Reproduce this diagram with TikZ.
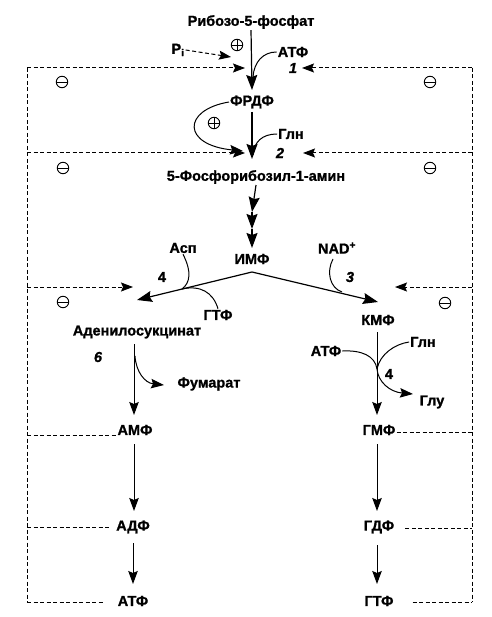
\documentclass[tikz,border=0pt]{standalone}
\usepackage{fontspec}
\setmainfont{Liberation Sans}[FakeBold=1.1]
\usetikzlibrary{arrows.meta}
\tikzset{
 lbl/.style={font=\fontsize{14.5}{17}\selectfont\bfseries, inner sep=1pt},
 num/.style={font=\fontsize{14.5}{17}\selectfont\bfseries\itshape, inner sep=1pt},
 numup/.style={font=\fontsize{14.5}{17}\selectfont\bfseries, inner sep=1pt},
 main/.style={line width=1.2pt, -{Stealth[length=15pt,width=11pt,inset=2pt]}},
 thinarr/.style={line width=1pt, -{Stealth[length=13pt,width=9.5pt,inset=2pt]}},
 side/.style={line width=1pt},
 fb/.style={line width=1pt, dash pattern=on 4pt off 2.5pt},
 fbarr/.style={fb, -{Stealth[length=12pt,width=9pt,inset=2pt]}},
 sgn/.style={circle, draw, line width=0.9pt, minimum size=11.5pt, inner sep=0},
 minus/.style={sgn, path picture={\draw[line width=0.9pt] (path picture bounding box.west) -- (path picture bounding box.east);}},
 plus/.style={sgn, path picture={\draw[line width=0.9pt] (path picture bounding box.west) -- (path picture bounding box.east) (path picture bounding box.north) -- (path picture bounding box.south);}},
}
\begin{document}
\begin{tikzpicture}[x=1pt,y=-1pt]
\useasboundingbox (0,0) rectangle (491,617);
% main metabolites
\node[lbl] (r5p) at (251,22) {Рибозо-5-фосфат};
\node[lbl] (frdf) at (252,102) {ФРДФ};
\node[lbl] (fra) at (256,177) {5-Фосфорибозил-1-амин};
\node[lbl] (imp) at (252,259) {ИМФ};
\node[lbl] (ads) at (137,332) {Аденилосукцинат};
\node[lbl] (kmp) at (378,320) {КМФ};
\node[lbl] (amp) at (135,430) {АМФ};
\node[lbl] (gmp) at (379,430) {ГМФ};
\node[lbl] (adp) at (133,527) {АДФ};
\node[lbl] (gdp) at (379,527) {ГДФ};
\node[lbl] (atp) at (133,601) {АТФ};
\node[lbl] (gtp) at (379,601) {ГТФ};
% side substrates
\node[lbl] (pi) at (178,50) {P\textsubscript{i}};
\node[lbl] (atp1) at (293,52) {АТФ};
\node[lbl] (gln1) at (291,134) {Глн};
\node[lbl] (asp) at (183,248) {Асп};
\node[lbl] (nad) at (337,248) {NAD\textsuperscript{+}};
\node[lbl] (gtp1) at (218,315) {ГТФ};
\node[lbl] (fum) at (209,384) {Фумарат};
\node[lbl] (atp3) at (326,351) {АТФ};
\node[lbl] (gln3) at (423,342) {Глн};
\node[lbl] (glu3) at (432,402) {Глу};
% numbers
\node[num] (n1) at (293,68) {1};
\node[num] (n2) at (280,153) {2};
\node[numup] (n4a) at (162,277) {4};
\node[num] (n3) at (350,277) {3};
\node[num] (n6) at (98,357) {6};
\node[numup] (n4b) at (389,374) {4};
% signs
\node[plus] (p1) at (237,45) {};
\node[plus] (p2) at (214,123) {};
\node[minus] (m1) at (62,82) {};
\node[minus] (m2) at (430,82) {};
\node[minus] (m3) at (63,168) {};
\node[minus] (m4) at (430,168) {};
\node[minus] (m5) at (63,302) {};
\node[minus] (m6) at (445,303) {};
% coordinates
\coordinate (t1) at (252,90);
\coordinate (s2) at (252,112);
\coordinate (t2) at (252,159);
\coordinate (j1) at (253,77);
\coordinate (j2) at (253,155);
\coordinate (a1) at (252,212);
\coordinate (a2) at (252,229);
\coordinate (a3) at (252,248);
\coordinate (apex) at (252,272);
\coordinate (lt) at (137,300);
\coordinate (rt) at (378,302);
\coordinate (jl) at (182,289);
\coordinate (jr) at (342,292);
\coordinate (L1) at (27,68);
\coordinate (R1) at (472,68);
\coordinate (L2) at (27,153);
\coordinate (R2) at (472,153);
\coordinate (L3) at (27,287);
\coordinate (R3) at (472,287);
\coordinate (L4) at (27,435);
\coordinate (R4) at (472,432);
\coordinate (L5) at (27,527);
\coordinate (R5) at (472,528);
\coordinate (L6) at (27,602);
\coordinate (R6) at (472,602);
\coordinate (f1l) at (245,68);
\coordinate (f1r) at (302,68);
\coordinate (f2l) at (245,153);
\coordinate (f2r) at (303,153);
\coordinate (f3l) at (133,287);
\coordinate (f3r) at (395,287);
\coordinate (pit) at (231,57);
\coordinate (lx) at (134,344);
\coordinate (lt2) at (134,415);
\coordinate (jf) at (135,356);
\coordinate (fumt) at (164,385);
\coordinate (rx) at (377,332);
\coordinate (rt2) at (377,415);
\coordinate (jg) at (377,369);
\coordinate (glut) at (413,394);
\coordinate (p2t) at (243,151);
% main pathway
\draw[main] (r5p.south) -- (t1);
\draw[main] (s2) -- (t2);
\draw[main] (fra.south) -- (a1);
\draw[main] (a1) -- (a2);
\draw[main] (a2) -- (a3);
\draw[line width=1.2pt, {Stealth[length=15pt,width=11pt,inset=2pt]}-{Stealth[length=15pt,width=11pt,inset=2pt]}] (lt) -- (apex) -- (rt);
\draw[thinarr] (lx) -- (lt2);
\draw[thinarr] (rx) -- (rt2);
\draw[thinarr] (134,444) -- (134,511);
\draw[thinarr] (133,543) -- (133,584);
\draw[thinarr] (377,444) -- (377,511);
\draw[thinarr] (377,545) -- (377,584);
% side reactions
\draw[side] (atp1.west) .. controls (263,52) and (254,62) .. (j1);
\draw[side] (gln1.west) .. controls (262,134) and (254,142) .. (j2);
\draw[side] (asp.south) .. controls (192,272) and (190,283) .. (jl);
\draw[side] (jl) .. controls (200,285) and (213,292) .. (gtp1.north);
\draw[side] (333,259) .. controls (326,272) and (330,288) .. (jr);
\draw[thinarr] (jf) .. controls (136,372) and (145,383) .. (fumt);
\draw[side] (atp3.east) .. controls (362,350) and (375,356) .. (jg);
\draw[side] (gln3.west) .. controls (395,344) and (380,354) .. (jg);
\draw[thinarr] (jg) .. controls (378,382) and (390,392) .. (glut);
\draw[thinarr] (frdf.west) .. controls (182,110) and (182,145) .. (p2t);
% feedback
\draw[fbarr] (pi.east) -- (pit);
\draw[fbarr] (L1) -- (f1l);
\draw[fbarr] (R1) -- (f1r);
\draw[fbarr] (L2) -- (f2l);
\draw[fbarr] (R2) -- (f2r);
\draw[fbarr] (L3) -- (f3l);
\draw[fbarr] (R3) -- (f3r);
\draw[fb] (L1) -- (L6);
\draw[fb] (R1) -- (R6);
\draw[fb] (L4) -- (amp.west |- L4);
\draw[fb] (gmp.east |- R4) -- (R4);
\draw[fb] (L5) -- ([xshift=-4pt]adp.west |- L5);
\draw[fb] ([xshift=10pt]gdp.east |- R5) -- (R5);
\draw[fb] (L6) -- ([xshift=-12pt]atp.west |- L6);
\draw[fb] ([xshift=18pt]gtp.east |- R6) -- (R6);
\end{tikzpicture}
\end{document}
